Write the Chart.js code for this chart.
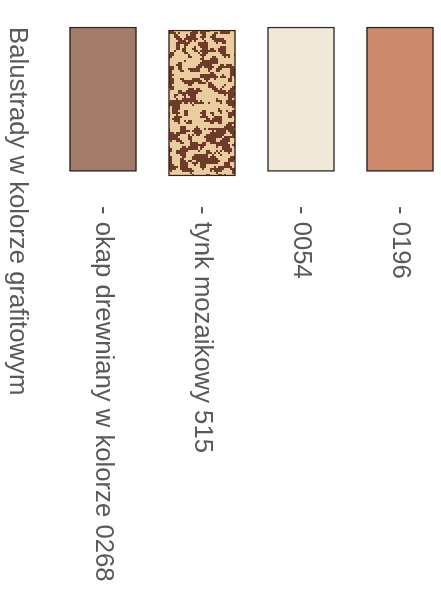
<!DOCTYPE html>
<html>
<head>
<meta charset="utf-8">
<script src="https://cdn.jsdelivr.net/npm/chart.js@4.4.1/dist/chart.umd.min.js"></script>
<style>
html,body{margin:0;padding:0;background:#fff;}
#wrap{position:relative;width:441px;height:591px;}
</style>
</head>
<body>
<div id="wrap"><canvas id="c" width="441" height="591"></canvas></div>
<script>
// ---- data ----
const title = 'Balustrady w kolorze grafitowym';
const categories = ['- okap drewniany w kolorze 0268', '- tynk mozaikowy 515', '- 0054', '- 0196'];
const spanStart = [3, 0, 3, 3];
const spanEnd = [100, 98, 100, 100];
const swatchColors = ['#a27b69', 'mosaic', '#f0e9d8', '#cc896b'];
const borderColors = ['#2b2420', '#3a1f16', '#2b2b2b', '#2b1f1a'];

// mosaic texture (deterministic)
function mosaicPattern(ctx) {
  const w = 80, h = 160, cell = 2;
  const pc = document.createElement('canvas');
  pc.width = w; pc.height = h;
  const g = pc.getContext('2d');
  g.fillStyle = '#e9cd9f';
  g.fillRect(0, 0, w, h);
  let seed = 98765;
  const rnd = () => { seed = (seed * 1103515245 + 12345) & 0x7fffffff; return seed / 0x7fffffff; };
  const nx = w / cell, ny = h / cell;
  const grid = [];
  for (let i = 0; i < ny; i++) { grid.push([]); for (let j = 0; j < nx; j++) grid[i].push(rnd() < 0.42 ? 1 : 0); }
  const sm = grid.map((r, i) => r.map((v, j) => {
    let c = 0;
    for (let di = -1; di <= 1; di++) for (let dj = -1; dj <= 1; dj++) c += grid[(i + di + ny) % ny][(j + dj + nx) % nx];
    return c >= 5 ? 1 : (c <= 3 ? 0 : v);
  }));
  g.fillStyle = '#6e3b2b';
  for (let i = 0; i < ny; i++) for (let j = 0; j < nx; j++) if (sm[i][j]) g.fillRect(j * cell, i * cell, cell, cell);
  return ctx.createPattern(pc, 'repeat');
}

const canvas = document.getElementById('c');
const ctx = canvas.getContext('2d');
const bg = swatchColors.map(c => c === 'mosaic' ? mosaicPattern(ctx) : c);

const labelPlugin = {
  id: 'rotLabels',
  afterDraw(chart) {
    const c = chart.ctx;
    const xs = chart.scales.x;
    c.save();
    c.fillStyle = '#595959';
    c.font = '25.7px "Liberation Sans", Arial, sans-serif';
    c.textAlign = 'left';
    c.textBaseline = 'middle';
    categories.forEach((lab, i) => {
      const x = xs.getPixelForValue(i);
      c.save();
      c.translate(x, chart.chartArea.bottom + 30);
      c.rotate(Math.PI / 2);
      c.fillText(lab, 0, 0);
      c.restore();
    });
    c.save();
    c.translate(17, chart.chartArea.top);
    c.rotate(Math.PI / 2);
    c.fillText(title, 0, 0);
    c.restore();
    c.restore();
  }
};

new Chart(canvas, {
  type: 'bar',
  data: {
    labels: categories,
    datasets: [{
      data: categories.map((_, i) => [spanStart[i], spanEnd[i]]),
      backgroundColor: bg,
      borderColor: borderColors,
      borderWidth: 1.5,
      borderSkipped: false,
      barThickness: 67,
      clip: false
    }]
  },
  options: {
    responsive: false,
    animation: false,
    layout: { padding: { left: 103, right: 41, top: 27, bottom: 415 } },
    plugins: { legend: { display: false }, tooltip: { enabled: false } },
    scales: {
      x: { display: false, offset: false },
      y: { display: false, min: 0, max: 100 }
    }
  },
  plugins: [labelPlugin]
});
</script>
</body>
</html>
